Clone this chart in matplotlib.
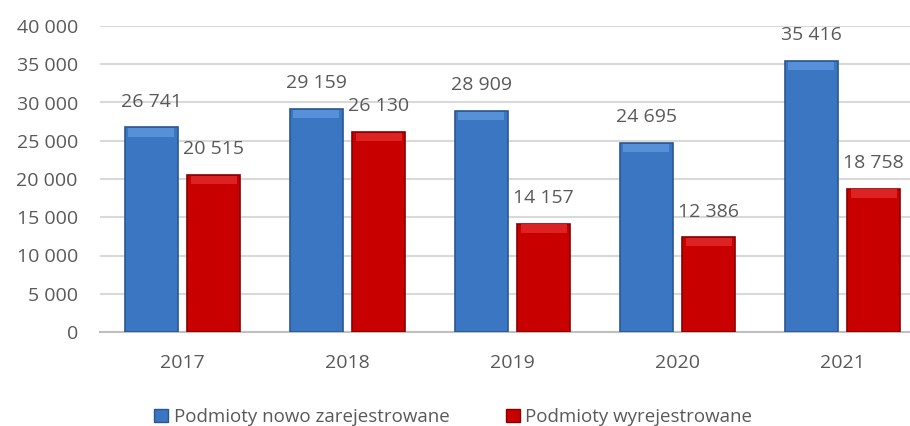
import numpy as np
import matplotlib
matplotlib.use("Agg")
import matplotlib.pyplot as plt
from matplotlib.patches import Patch

years = ["2017", "2018", "2019", "2020", "2021"]
nowe = [26741, 29159, 28909, 24695, 35416]
wyrej = [20515, 26130, 14157, 12386, 18758]
labels = ["Podmioty nowo zarejestrowane", "Podmioty wyrejestrowane"]

plt.rcParams['font.family'] = ['Open Sans', 'DejaVu Sans']
txt = "#595959"

def fmt(v):
    return "{:,}".format(int(v)).replace(",", " ")

fig = plt.figure(figsize=(9.1, 4.26), dpi=100)
ax = fig.add_axes([100/910, 94/426, 825/910, 306/426])

x = np.arange(len(years))
w = 0.32
off = 0.19
ax.bar(x - off, nowe, w, color="#3a76c2", edgecolor="#2a5791", linewidth=1.2, zorder=3)
ax.bar(x + off, wyrej, w, color="#c80000", edgecolor="#8a0000", linewidth=1.2, zorder=3)

# subtle lighter bevel at the top of each bar
ax.bar(x - off, [1100] * len(x), w * 0.86, bottom=np.array(nowe) - 1200, color="#5590d8", linewidth=0, zorder=4)
ax.bar(x + off, [1100] * len(x), w * 0.86, bottom=np.array(wyrej) - 1200, color="#dc2222", linewidth=0, zorder=4)

for xi, v in zip(x - off, nowe):
    ax.annotate(fmt(v), (xi, v), xytext=(0, 12), textcoords="offset points",
                ha="center", va="bottom", fontsize=14, color=txt)
for xi, v in zip(x + off, wyrej):
    ax.annotate(fmt(v), (xi, v), xytext=(0, 12), textcoords="offset points",
                ha="center", va="bottom", fontsize=14, color=txt)

ax.set_xlim(-0.5, 4.5)
ax.set_ylim(0, 40000)
ax.set_yticks(range(0, 40001, 5000))
ax.set_yticklabels([fmt(v) for v in range(0, 40001, 5000)])
ax.set_xticks(x)
ax.set_xticklabels(years)
ax.tick_params(axis="y", length=0, pad=16, labelsize=14, labelcolor=txt)
ax.tick_params(axis="x", length=0, pad=16, labelsize=14, labelcolor=txt)
ax.grid(axis="y", color="#d9d9d9", linewidth=1.5, zorder=0)
for s in ["top", "right", "left"]:
    ax.spines[s].set_visible(False)
ax.spines["bottom"].set_color("#bfbfbf")
ax.spines["bottom"].set_linewidth(1.5)

handles = [Patch(facecolor="#3a76c2", edgecolor="#2a5791"),
           Patch(facecolor="#c80000", edgecolor="#8a0000")]
fig.legend(handles, labels, loc="center", bbox_to_anchor=(453/910, 1 - 417/426), ncol=2,
           frameon=False, fontsize=13.5, labelcolor=txt, handlelength=0.75, handleheight=0.75,
           handletextpad=0.3, columnspacing=3.0)

fig.savefig("out.png", dpi=100)
